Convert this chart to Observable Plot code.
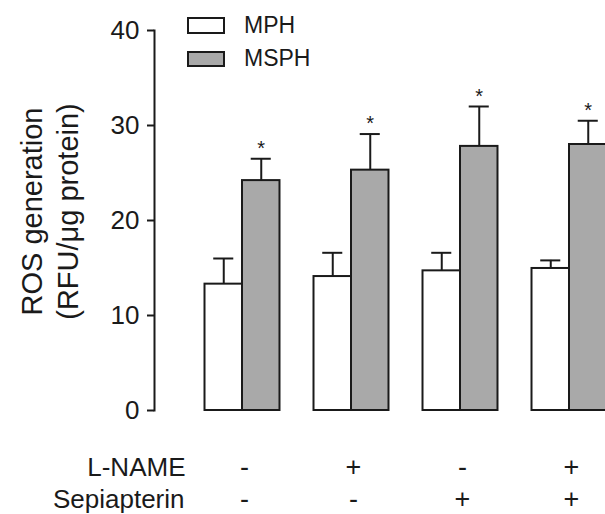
<!DOCTYPE html>
<html>
<head>
<meta charset="utf-8">
<script src="https://cdn.jsdelivr.net/npm/d3@7"></script>
<script src="https://cdn.jsdelivr.net/npm/@observablehq/plot@0.6"></script>
<style>
  html, body { margin: 0; padding: 0; background: #fff; overflow: hidden; }
  #wrap { position: relative; width: 605px; height: 514px; font-family: "Liberation Sans", Arial, sans-serif; color: #1a1a1a; }
  #wrap svg { position: absolute; left: 0; top: 0; overflow: visible; }
  .lg-box { position: absolute; box-sizing: border-box; border: 2px solid #1a1a1a; width: 38px; }
  .lg-text { position: absolute; font-size: 23px; line-height: 1; }
</style>
</head>
<body>
<div id="wrap"></div>
<script>
// ---- data ----
const groups = ["G1", "G2", "G3", "G4"];
const lnameSigns = ["-", "+", "-", "+"];
const sepiSigns = ["-", "-", "+", "+"];
const seriesNames = ["MPH", "MSPH"];
const mphValues = [13.3, 14.1, 14.7, 14.95];
const mphErrors = [2.7, 2.5, 1.9, 0.85];
const msphValues = [24.2, 25.3, 27.8, 28.0];
const msphErrors = [2.3, 3.8, 4.2, 2.5];
const significant = [true, true, true, true];
const yTicks = [0, 10, 20, 30, 40];
const rowLabels = ["L-NAME", "Sepiapterin"];
const yLabel = "ROS generation\n(RFU/\u03bcg protein)";
const seriesColors = ["#ffffff", "#a9a9a9"];

// ---- table built from the arrays ----
const BW = 0.344; // bar width in group units
const rows = groups.flatMap((g, i) => [
  {i, series: seriesNames[0], value: mphValues[i], err: mphErrors[i], sig: false},
  {i, series: seriesNames[1], value: msphValues[i], err: msphErrors[i], sig: significant[i]}
]);
const barLeft = d => d.series === seriesNames[0] ? d.i - BW : d.i;
const barRight = d => d.series === seriesNames[0] ? d.i : d.i + BW;
const barCenter = d => d.series === seriesNames[0] ? d.i - BW / 2 : d.i + BW / 2;
const errTop = d => d.value + d.err;
const CAP = 0.092;

const ink = "#1a1a1a";
const font = "Liberation Sans, Arial, sans-serif";

const chart = Plot.plot({
  width: 605,
  height: 514,
  marginLeft: 154,
  marginRight: 0,
  marginTop: 30,
  marginBottom: 104,
  style: {fontFamily: font, color: ink, background: "transparent"},
  x: {type: "linear", domain: [0, 3], range: [242, 569], axis: null},
  y: {domain: [0, 40]},
  color: {domain: seriesNames, range: seriesColors},
  marks: [
    Plot.rect(rows, {x1: barLeft, x2: barRight, y1: 0, y2: "value", fill: "series", stroke: ink, strokeWidth: 2}),
    Plot.ruleX(rows, {x: barCenter, y1: "value", y2: errTop, stroke: ink, strokeWidth: 2}),
    Plot.ruleY(rows, {y: errTop, x1: d => barCenter(d) - CAP, x2: d => barCenter(d) + CAP, stroke: ink, strokeWidth: 2}),
    Plot.text(rows.filter(d => d.sig), {x: barCenter, y: errTop, text: () => "*", dy: -10, fontSize: 20, fill: ink}),
    Plot.axisY({ticks: yTicks, tickSize: 7, tickPadding: 8, fontSize: 26, label: null, strokeWidth: 2}),
    Plot.frame({anchor: "left", stroke: ink, strokeWidth: 2}),
    Plot.text([yLabel], {text: d => d, frameAnchor: "left", textAnchor: "middle", lineAnchor: "middle", rotate: -90, dx: -106, dy: -9, fontSize: 29, lineHeight: 1.22, fill: ink}),
    Plot.text([rowLabels[0]], {text: d => d, frameAnchor: "bottom-left", textAnchor: "end", lineAnchor: "middle", dx: 31, dy: 57, fontSize: 26, fill: ink}),
    Plot.text([rowLabels[1]], {text: d => d, frameAnchor: "bottom-left", textAnchor: "end", lineAnchor: "middle", dx: 30, dy: 89, fontSize: 26, fill: ink}),
    Plot.text(lnameSigns, {x: (d, i) => i, text: d => d, frameAnchor: "bottom", lineAnchor: "middle", dx: 2, dy: 57, fontSize: 27, fill: ink}),
    Plot.text(sepiSigns, {x: (d, i) => i, text: d => d, frameAnchor: "bottom", lineAnchor: "middle", dx: 2, dy: 89, fontSize: 27, fill: ink})
  ]
});

const wrap = document.getElementById("wrap");
wrap.appendChild(chart);

// legend (HTML overlay)
const legendPos = [{boxTop: 17, boxH: 17, textTop: 14}, {boxTop: 51, boxH: 16, textTop: 47}];
seriesNames.forEach((name, k) => {
  const box = document.createElement("div");
  box.className = "lg-box";
  box.style.left = "187px";
  box.style.top = legendPos[k].boxTop + "px";
  box.style.height = legendPos[k].boxH + "px";
  box.style.background = seriesColors[k];
  wrap.appendChild(box);
  const t = document.createElement("div");
  t.className = "lg-text";
  t.style.left = "244px";
  t.style.top = legendPos[k].textTop + "px";
  t.textContent = name;
  wrap.appendChild(t);
});
</script>
</body>
</html>
